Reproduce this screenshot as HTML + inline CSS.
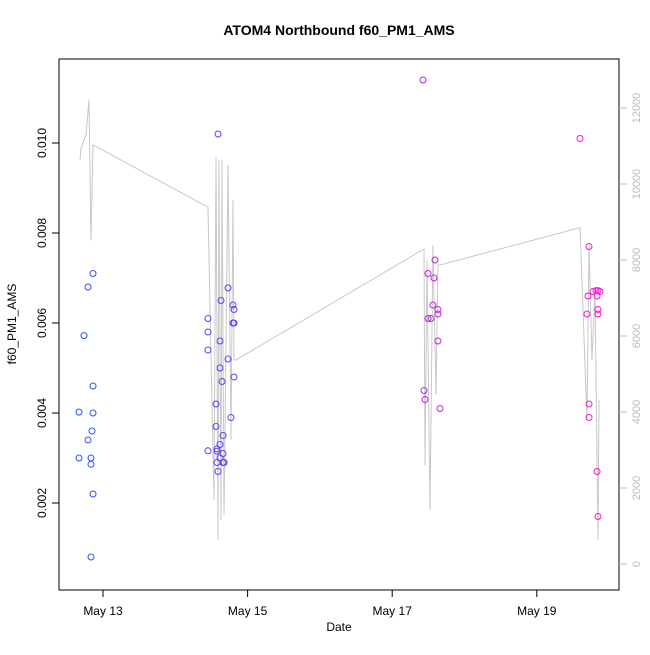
<!DOCTYPE html>
<html><head><meta charset="utf-8"><style>body{margin:0;background:#fff}svg{font-family:"Liberation Sans",sans-serif}</style></head>
<body>
<svg id="c" width="650" height="650"></svg>
<script>
const pointDays=[12.862,12.793,12.737,12.862,12.668,12.862,12.848,12.793,12.668,12.834,12.834,12.862,12.834,
14.591,14.729,14.632,14.798,14.812,14.452,14.798,14.812,14.452,14.618,14.452,14.729,14.618,14.646,14.812,14.563,14.770,14.563,14.660,14.618,14.452,14.577,14.577,14.660,14.618,14.660,14.674,14.577,14.591,
17.426,17.495,17.592,17.578,17.564,17.633,17.495,17.537,17.633,17.633,17.440,17.454,17.661,
19.598,19.722,19.694,19.708,19.777,19.819,19.846,19.874,19.833,19.846,19.846,19.722,19.722,19.833,19.846];
const pointValues=[0.0071,0.0068,0.00572,0.0046,0.00402,0.00400,0.0036,0.0034,0.0030,0.0030,0.00286,0.0022,0.0008,
0.0102,0.00678,0.0065,0.0064,0.0063,0.0061,0.0060,0.0060,0.0058,0.0056,0.0054,0.0052,0.0050,0.0047,0.0048,0.0042,0.0039,0.0037,0.0035,0.0033,0.00316,0.0032,0.00315,0.0031,0.0030,0.0029,0.0029,0.0029,0.0027,
0.0114,0.0071,0.0074,0.0070,0.0064,0.0063,0.0061,0.0061,0.0062,0.0056,0.0045,0.0043,0.0041,
0.0101,0.0077,0.0062,0.0066,0.0067,0.00672,0.00672,0.0067,0.0066,0.0063,0.0062,0.0042,0.0039,0.0027,0.0017];
const lineDays=[12.682,12.696,12.765,12.806,12.820,12.834,12.862,14.452,14.535,14.563,14.591,14.604,14.632,14.646,14.674,14.729,14.770,14.798,14.812,14.840,17.440,17.454,17.481,17.523,17.564,17.606,17.633,17.661,19.598,19.694,19.722,19.763,19.805,19.846,19.860];
const lineValues=[10630,10940,11290,12220,10370,8520,11030,9390,1680,10710,630,10630,1160,10630,1290,10500,3270,9580,5370,5370,8290,2600,8000,1420,8390,4450,7870,7870,8850,3790,8450,5370,7210,630,4320];
const xTicks=[13,15,17,19];const xTickLabels=["May 13","May 15","May 17","May 19"];
const yTicks=[0.002,0.004,0.006,0.008,0.010];
const y2Ticks=[0,2000,4000,6000,8000,10000,12000];
const X=d=>103+(d-13)*72.3, Y=v=>503-(v-0.002)*45000, Y2=v=>108+(12000-v)*0.038;
const svg=document.getElementById('c');const NS='http://www.w3.org/2000/svg';
function mk(t,a,txt){const e=document.createElementNS(NS,t);for(const k in a)e.setAttribute(k,a[k]);if(txt!=null)e.textContent=txt;svg.appendChild(e);return e;}
let e;
e=mk('rect',{x:59,y:59,width:560,height:531,fill:'none',stroke:'#000'});


e=mk('text',{x:339,y:35,'text-anchor':'middle','font-size':14,'font-weight':'bold'},'ATOM4 Northbound f60_PM1_AMS');


e=mk('text',{x:339,y:631,'text-anchor':'middle','font-size':12},'Date');


e=mk('text',{x:0,y:0,'text-anchor':'middle','font-size':12,transform:'translate(16,324) rotate(-90)'},'f60_PM1_AMS');


xTicks.forEach((t,i)=>{const x=X(t);
e=mk('line',{x1:x,x2:x,y1:590,y2:597,stroke:'#000'});


e=mk('text',{x:x,y:615,'text-anchor':'middle','font-size':12},xTickLabels[i]);

});
e=mk('line',{x1:X(13),x2:X(19),y1:590,y2:590,stroke:'#000'});
yTicks.forEach(t=>{const y=Y(t);
e=mk('line',{x1:52,x2:59,y1:y,y2:y,stroke:'#000'});


e=mk('text',{x:0,y:0,'text-anchor':'middle','font-size':12,transform:`translate(46,${y}) rotate(-90)`},t.toFixed(3));

});
y2Ticks.forEach(t=>{const y=Y2(t);
e=mk('line',{x1:619,x2:627,y1:y,y2:y,stroke:'#bbb'});


e=mk('text',{x:0,y:0,'text-anchor':'middle','font-size':11,fill:'#bbb',transform:`translate(640,${y}) rotate(-90)`},String(t));

});
e=mk('polyline',{points:lineDays.map((d,i)=>X(d)+','+Y2(lineValues[i])).join(' '),fill:'none',stroke:'#c8c8c8','stroke-width':1});


const d0=12.6,d1=19.9;
pointDays.forEach((d,i)=>{const f=Math.max(0,Math.min(1,(d-d0)/(d1-d0)));
const r=Math.round(40+215*f),g=Math.round(80-60*f),b=Math.round(255-45*f);
e=mk('circle',{cx:X(d),cy:Y(pointValues[i]),r:3,fill:'none',stroke:`rgb(${r},${g},${b})`,'stroke-width':1});

});
</script>
</body></html>
